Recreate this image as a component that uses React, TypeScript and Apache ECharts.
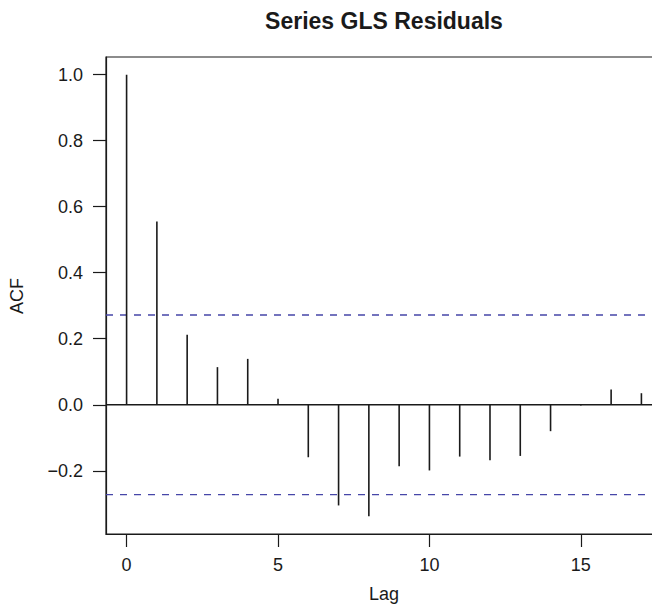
import React, { useEffect, useRef } from "react";
import * as echarts from "echarts";

const lags = [0, 1, 2, 3, 4, 5, 6, 7, 8, 9, 10, 11, 12, 13, 14, 15, 16, 17];
const acfValues = [1.0, 0.555, 0.212, 0.114, 0.139, 0.018, -0.159, -0.305, -0.338, -0.186, -0.199, -0.157, -0.168, -0.155, -0.08, -0.002, 0.046, 0.035];
const confLimit = 0.272;
const xTicks = [0, 5, 10, 15];
const yTicks = [-0.2, 0, 0.2, 0.4, 0.6, 0.8, 1.0];
const hLines = [
  { value: 0, kind: "zero" },
  { value: confLimit, kind: "ci" },
  { value: -confLimit, kind: "ci" },
];

const FONT = "'Liberation Sans', Arial, Helvetica, sans-serif";

export default function App() {
  const ref = useRef<HTMLDivElement>(null);
  useEffect(() => {
    if (!ref.current) return;
    const chart = echarts.init(ref.current, undefined, { renderer: "svg" });
    const data = lags.map((l, i) => [l, acfValues[i]]);
    const yMinData = Math.min(-confLimit, ...acfValues);
    const yMaxData = Math.max(confLimit, ...acfValues);
    const yPad = (yMaxData - yMinData) * 0.04;
    const xPad = (lags[lags.length - 1] - lags[0]) * 0.04;
    chart.setOption({
      animation: false,
      backgroundColor: "#ffffff",
      textStyle: { fontFamily: FONT },
      grid: {
        left: 106,
        top: 57,
        width: 556,
        height: 477,
        show: true,
        borderColor: "#1a1a1a",
        borderWidth: 1.2,
        containLabel: false,
        outerBoundsMode: "none",
      },
      xAxis: {
        type: "value",
        min: lags[0] - xPad,
        max: lags[lags.length - 1] + xPad,
        splitLine: { show: false },
        axisLine: { show: true, onZero: false, lineStyle: { color: "#1a1a1a", width: 1.2 } },
        axisTick: { show: true, length: 13, inside: false, customValues: xTicks, lineStyle: { color: "#1a1a1a", width: 1.2 } },
        axisLabel: {
          show: true,
          customValues: xTicks,
          margin: 22,
          color: "#1a1a1a",
          fontSize: 18,
          fontFamily: FONT,
          formatter: (v: number) => String(v),
        },
      },
      yAxis: {
        type: "value",
        min: yMinData - yPad,
        max: yMaxData + yPad,
        splitLine: { show: false },
        axisLine: { show: true, onZero: false, lineStyle: { color: "#1a1a1a", width: 1.2 } },
        axisTick: { show: true, length: 13, inside: false, customValues: yTicks, lineStyle: { color: "#1a1a1a", width: 1.2 } },
        axisLabel: {
          show: true,
          customValues: yTicks,
          margin: 23,
          color: "#1a1a1a",
          fontSize: 18,
          fontFamily: FONT,
          formatter: (v: number) => (v < 0 ? "\u2212" + Math.abs(v).toFixed(1) : v.toFixed(1)),
        },
      },
      graphic: [
        {
          type: "text",
          x: 384,
          y: 21,
          style: {
            text: "Series GLS Residuals",
            font: `bold 23px ${FONT}`,
            fill: "#1a1a1a",
            align: "center",
            verticalAlign: "middle",
          },
        },
        {
          type: "text",
          x: 384,
          y: 594,
          style: {
            text: "Lag",
            font: `18px ${FONT}`,
            fill: "#1a1a1a",
            align: "center",
            verticalAlign: "middle",
          },
        },
        {
          type: "text",
          x: 17,
          y: 296,
          rotation: Math.PI / 2,
          style: {
            text: "ACF",
            font: `18px ${FONT}`,
            fill: "#1a1a1a",
            align: "center",
            verticalAlign: "middle",
          },
        },
      ],
      series: [
        {
          type: "custom",
          silent: true,
          data: hLines.map((h) => [0, h.value, h.kind === "zero" ? 0 : 1]),
          renderItem: (params: any, api: any) => {
            const y = api.coord([0, api.value(1)])[1];
            const cs = params.coordSys;
            const isCi = api.value(2) === 1;
            return {
              type: "line",
              shape: { x1: cs.x, y1: y, x2: cs.x + cs.width, y2: y },
              style: isCi
                ? { stroke: "#4646a8", lineWidth: 1.3, lineDash: [7, 7] }
                : { stroke: "#1a1a1a", lineWidth: 1.3 },
            };
          },
        },
        {
          type: "custom",
          silent: true,
          data,
          renderItem: (params: any, api: any) => {
            const x = api.value(0);
            const y = api.value(1);
            const p0 = api.coord([x, 0]);
            const p1 = api.coord([x, y]);
            return {
              type: "line",
              shape: { x1: p0[0], y1: p0[1], x2: p1[0], y2: p1[1] },
              style: { stroke: "#1a1a1a", lineWidth: 1.6 },
            };
          },
        },
      ],
    });
    return () => chart.dispose();
  }, []);
  return (
    <div
      ref={ref}
      style={{ position: "fixed", left: 0, top: 0, width: 652, height: 615, background: "#fff" }}
    />
  );
}
